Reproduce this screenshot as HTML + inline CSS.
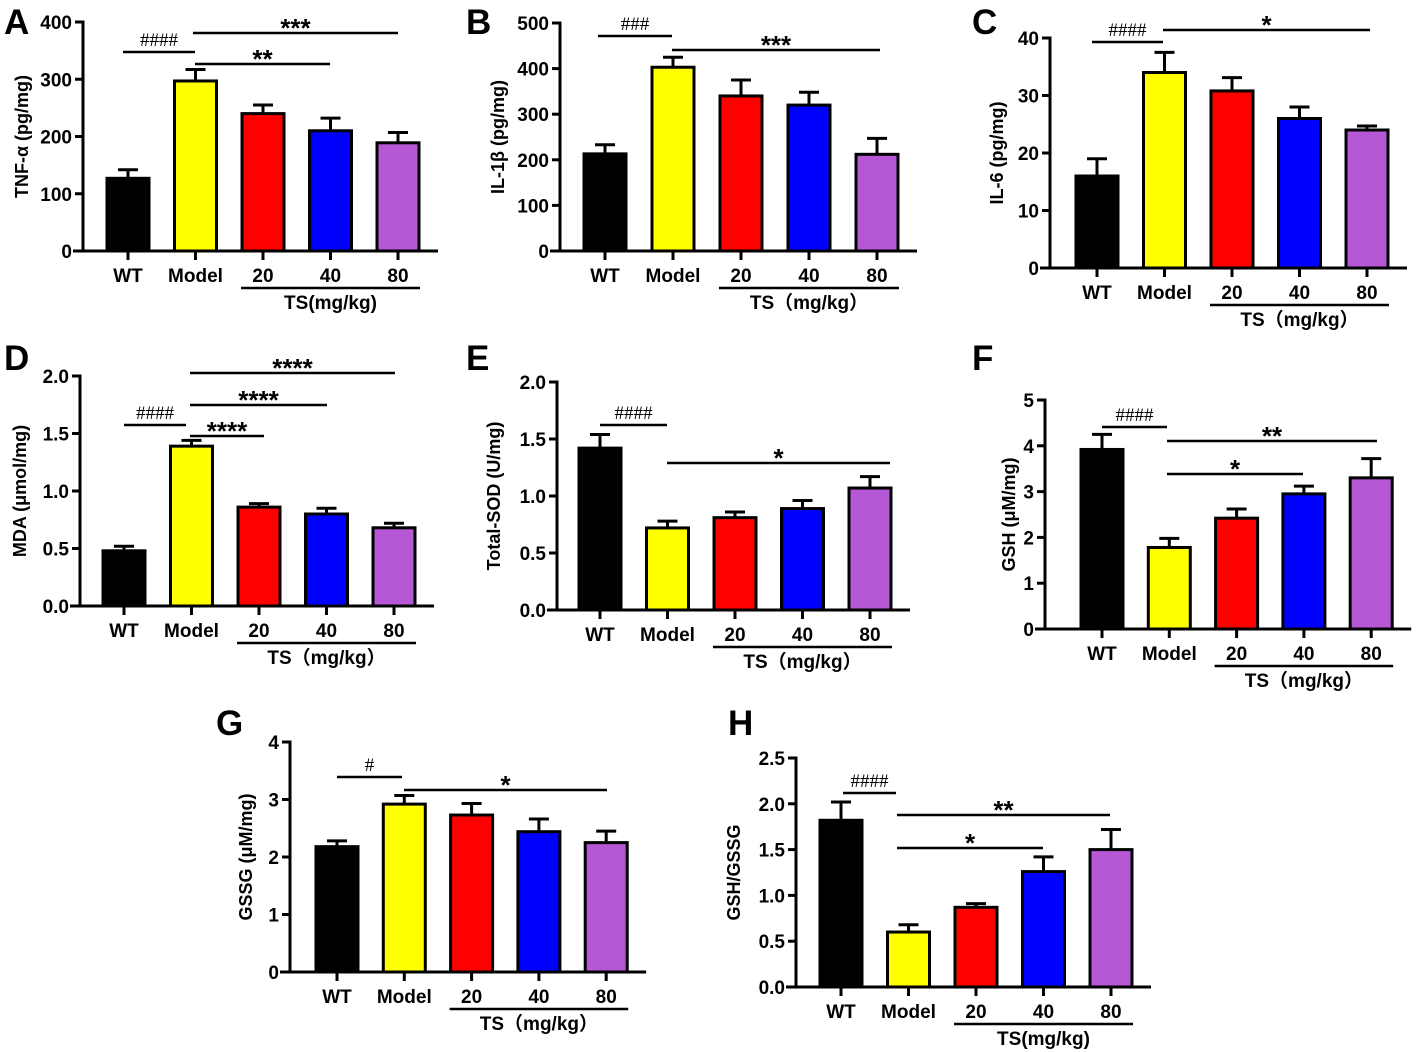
<!DOCTYPE html>
<html><head><meta charset="utf-8">
<style>
html,body{margin:0;padding:0;background:#fff;}
svg{display:block;font-family:"Liberation Sans","Noto Sans CJK SC",sans-serif;}
</style></head>
<body>
<svg id="fig" width="1422" height="1052" viewBox="0 0 1422 1052" xmlns="http://www.w3.org/2000/svg"></svg>
<script>
const categories = ["WT","Model","20","40","80"];
const colors = ["#000000","#ffff00","#ff0000","#0000ff","#b657d6"];
const valuesA = [127,297,240,210,189]; const errorsA = [15,20,15,22,18];
const valuesB = [213,403,340,320,212]; const errorsB = [20,22,35,28,35];
const valuesC = [16,34,30.8,26,24]; const errorsC = [3,3.5,2.3,2,0.7];
const valuesD = [0.48,1.39,0.86,0.8,0.68]; const errorsD = [0.04,0.05,0.03,0.05,0.04];
const valuesE = [1.42,0.72,0.81,0.89,1.07]; const errorsE = [0.12,0.06,0.05,0.07,0.1];
const valuesF = [3.92,1.78,2.42,2.95,3.3]; const errorsF = [0.33,0.2,0.2,0.17,0.42];
const valuesG = [2.18,2.92,2.73,2.44,2.25]; const errorsG = [0.1,0.15,0.2,0.22,0.2];
const valuesH = [1.82,0.6,0.87,1.26,1.5]; const errorsH = [0.2,0.08,0.04,0.16,0.22];
const ticksA = ["0","100","200","300","400"];
const ticksB = ["0","100","200","300","400","500"];
const ticksC = ["0","10","20","30","40"];
const ticksD = ["0.0","0.5","1.0","1.5","2.0"];
const ticksE = ["0.0","0.5","1.0","1.5","2.0"];
const ticksF = ["0","1","2","3","4","5"];
const ticksG = ["0","1","2","3","4"];
const ticksH = ["0.0","0.5","1.0","1.5","2.0","2.5"];

const NS="http://www.w3.org/2000/svg";
const svg=document.getElementById('fig');
function mk(tag,attrs,parent,text){const e=document.createElementNS(NS,tag);for(const k in attrs)e.setAttribute(k,attrs[k]);if(text!==undefined)e.textContent=text;(parent||svg).appendChild(e);return e;}

const panels=[
 {id:"A",letter:[4,34],ax:83,top:22,bot:251,c0:128,dx:67.5,vals:valuesA,errs:errorsA,ticks:ticksA,title:"TNF-α (pg/mg)",tx:22,full:false,
  ann:[{t:"####",y:52,x1:123,x2:195,h:true},{t:"***",y:33,x1:193,x2:398},{t:"**",y:64,x1:195,x2:330}]},
 {id:"B",letter:[466,34],ax:560,top:23,bot:251,c0:605,dx:68,vals:valuesB,errs:errorsB,ticks:ticksB,title:"IL-1β (pg/mg)",tx:498,full:true,
  ann:[{t:"###",y:36,x1:598,x2:672,h:true},{t:"***",y:50,x1:672,x2:880}]},
 {id:"C",letter:[972,34],ax:1050,top:38,bot:268,c0:1097,dx:67.5,vals:valuesC,errs:errorsC,ticks:ticksC,title:"IL-6 (pg/mg)",tx:997,full:true,
  ann:[{t:"####",y:42,x1:1092,x2:1163,h:true},{t:"*",y:30,x1:1163,x2:1370}]},
 {id:"D",letter:[4,370],ax:80,top:376,bot:606,c0:124,dx:67.5,vals:valuesD,errs:errorsD,ticks:ticksD,title:"MDA (μmol/mg)",tx:20,full:true,
  ann:[{t:"####",y:425,x1:124,x2:186,h:true},{t:"****",y:373,x1:190,x2:395},{t:"****",y:405,x1:190,x2:327},{t:"****",y:436,x1:190,x2:264}]},
 {id:"E",letter:[466,370],ax:557,top:382,bot:610,c0:600,dx:67.5,vals:valuesE,errs:errorsE,ticks:ticksE,title:"Total-SOD (U/mg)",tx:494,full:true,
  ann:[{t:"####",y:425,x1:600,x2:667,h:true},{t:"*",y:463,x1:667,x2:890}]},
 {id:"F",letter:[972,370],ax:1045,top:400,bot:629,c0:1102,dx:67.3,vals:valuesF,errs:errorsF,ticks:ticksF,title:"GSH (μM/mg)",tx:1009,full:true,
  ann:[{t:"####",y:427,x1:1102,x2:1167,h:true},{t:"**",y:441,x1:1167,x2:1377},{t:"*",y:474,x1:1167,x2:1303}]},
 {id:"G",letter:[216,735],ax:290,top:742,bot:972,c0:337,dx:67.3,vals:valuesG,errs:errorsG,ticks:ticksG,title:"GSSG (μM/mg)",tx:246,full:true,
  ann:[{t:"#",y:777,x1:337,x2:402,h:true},{t:"*",y:790,x1:404,x2:607}]},
 {id:"H",letter:[728,735],ax:796,top:758,bot:987,c0:841,dx:67.5,vals:valuesH,errs:errorsH,ticks:ticksH,title:"GSH/GSSG",tx:734,full:false,
  ann:[{t:"####",y:793,x1:843,x2:896,h:true},{t:"**",y:815,x1:897,x2:1110},{t:"*",y:848,x1:897,x2:1043}]}
];

panels.forEach(p=>{
  const g=mk('g',{});
  
  
  const n=p.ticks.length-1, ymax=parseFloat(p.ticks[n]);
  const y=v=>p.bot-(v/ymax)*(p.bot-p.top);
  const x=i=>p.c0+i*p.dx;
  const lt=mk('text',{x:p.letter[0],y:p.letter[1],'font-size':35,'font-weight':'bold'},g,p.id);
   
  p.vals.forEach((v,i)=>{
    const w=42, top=y(v), e=y(v+p.errs[i]);
    const el=mk('line',{x1:x(i),x2:x(i),y1:top,y2:e,stroke:'#000','stroke-width':3},g);
     
    const cap=mk('line',{x1:x(i)-10,x2:x(i)+10,y1:e,y2:e,stroke:'#000','stroke-width':3},g);
     
    const r=mk('rect',{x:x(i)-w/2,y:top,width:w,height:p.bot-top,fill:colors[i],stroke:'#000','stroke-width':3},g);
     
  });
  const ya=mk('line',{x1:p.ax,x2:p.ax,y1:p.top-1.5,y2:p.bot+1.5,stroke:'#000','stroke-width':3},g);
   
  const xa=mk('line',{x1:p.ax-10,x2:x(4)+40,y1:p.bot,y2:p.bot,stroke:'#000','stroke-width':3},g);
   
  p.ticks.forEach((t,k)=>{
    const ty=y(parseFloat(t));
    const tl=mk('line',{x1:p.ax-8,x2:p.ax,y1:ty,y2:ty,stroke:'#000','stroke-width':3},g);
     
    const tt=mk('text',{x:p.ax-11,y:ty+7,'font-size':19,'font-weight':'bold','text-anchor':'end'},g,t);
     
  });
  categories.forEach((c,i)=>{
    const tl=mk('line',{x1:x(i),x2:x(i),y1:p.bot,y2:p.bot+9,stroke:'#000','stroke-width':3},g);
     
    const tt=mk('text',{x:x(i),y:p.bot+31,'font-size':19,'font-weight':'bold','text-anchor':'middle'},g,c);
     
  });
  const tsl=mk('line',{x1:x(2)-22,x2:x(4)+22,y1:p.bot+37,y2:p.bot+37,stroke:'#000','stroke-width':2.5},g);
   
  const tst=mk('text',{x:x(3),y:p.bot+58,'font-size':19,'font-weight':'bold','text-anchor':'middle'},g,p.full?"TS（mg/kg）":"TS(mg/kg)");
   
  const yt=mk('text',{x:0,y:0,'font-size':18,'font-weight':'bold','text-anchor':'middle',transform:`translate(${p.tx+6},${(p.top+p.bot)/2}) rotate(-90)`},g,p.title);
   
  p.ann.forEach(a=>{
    const al=mk('line',{x1:a.x1,x2:a.x2,y1:a.y,y2:a.y,stroke:'#000','stroke-width':2.5},g);
     
    const at=mk('text',{x:(a.x1+a.x2)/2,y:a.h?a.y-6:a.y+4,'font-size':a.h?19:26,'font-weight':a.h?'normal':'bold','text-anchor':'middle','font-family':a.h?'"Liberation Serif",serif':'"Liberation Sans",sans-serif'},g,a.t);
     
  });
});
</script>
</body></html>
